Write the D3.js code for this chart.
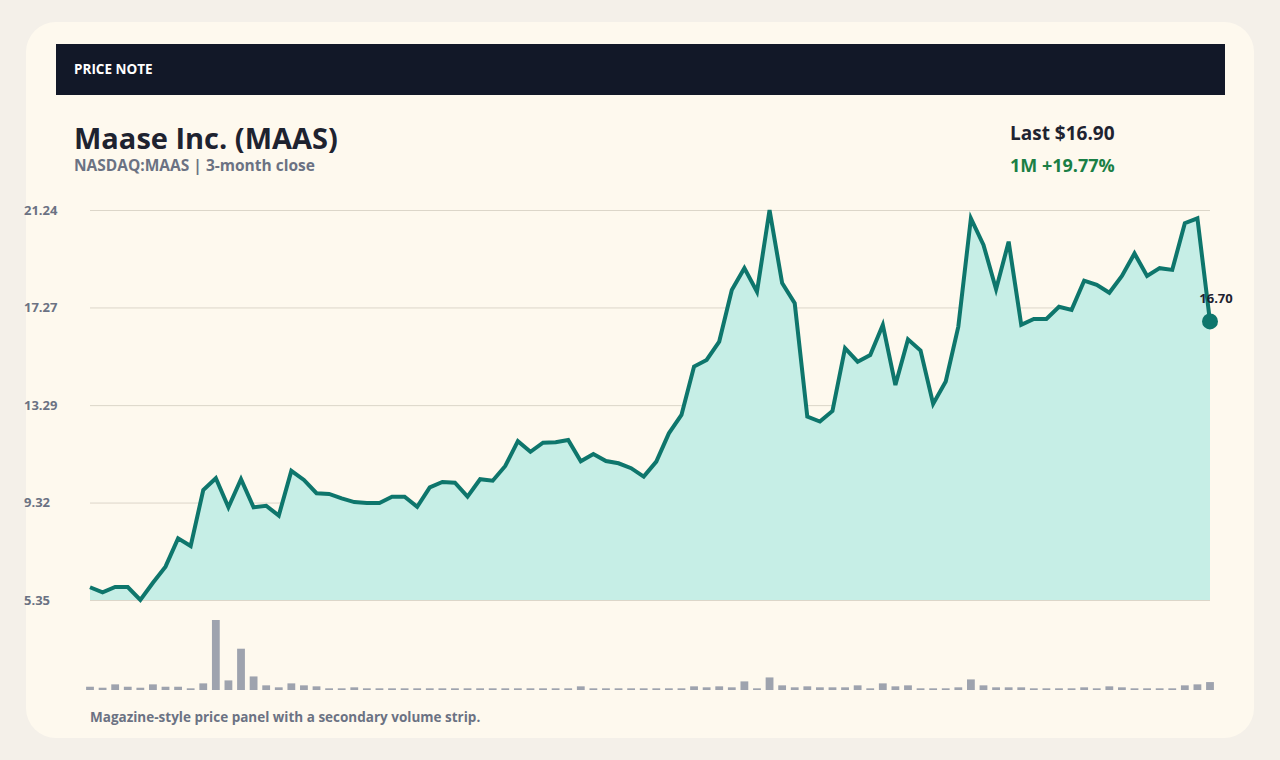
<!DOCTYPE html>
<html>
<head>
<meta charset="utf-8">
<script src="https://cdn.jsdelivr.net/npm/d3@7"></script>
<style>
  html, body { margin: 0; padding: 0; background: #f4f0e9; }
  svg { display: block; font-family: "Open Sans", sans-serif; }
</style>
</head>
<body>
<svg id="chart" width="1280" height="760"></svg>
<script>
// daily close, 3 months
const closes = [
  5.87, 5.66, 5.88, 5.88, 5.35, 6.05, 6.71, 7.86, 7.55, 9.83,
  10.31, 9.13, 10.27, 9.13, 9.19, 8.79, 10.61, 10.24, 9.70, 9.67,
  9.49, 9.34, 9.30, 9.30, 9.56, 9.56, 9.15, 9.94, 10.16, 10.13,
  9.56, 10.27, 10.21, 10.81, 11.82, 11.39, 11.76, 11.78, 11.87, 11.00,
  11.30, 11.01, 10.92, 10.72, 10.38, 10.99, 12.14, 12.89, 14.86, 15.13,
  15.88, 17.98, 18.87, 17.91, 21.24, 18.26, 17.44, 12.82, 12.62, 13.05,
  15.61, 15.06, 15.33, 16.56, 14.11, 15.97, 15.51, 13.34, 14.25, 16.49,
  20.90, 19.82, 18.01, 19.95, 16.56, 16.80, 16.80, 17.30, 17.17, 18.36,
  18.19, 17.87, 18.55, 19.47, 18.55, 18.87, 18.80, 20.70, 20.90, 16.70
];

// volume (millions)
const volumes = [
  0.33, 0.23, 0.57, 0.33, 0.23, 0.57, 0.33, 0.33, 0.17, 0.67,
  7.07, 0.97, 4.17, 1.37, 0.47, 0.27, 0.67, 0.47, 0.37, 0.17,
  0.17, 0.27, 0.17, 0.17, 0.17, 0.17, 0.17, 0.17, 0.17, 0.17,
  0.17, 0.17, 0.17, 0.17, 0.17, 0.17, 0.17, 0.17, 0.17, 0.37,
  0.17, 0.17, 0.17, 0.17, 0.17, 0.17, 0.17, 0.17, 0.37, 0.27,
  0.37, 0.27, 0.87, 0.17, 1.27, 0.47, 0.27, 0.37, 0.27, 0.27,
  0.27, 0.47, 0.17, 0.67, 0.37, 0.47, 0.17, 0.17, 0.17, 0.27,
  1.07, 0.47, 0.27, 0.27, 0.27, 0.17, 0.17, 0.17, 0.17, 0.27,
  0.17, 0.37, 0.27, 0.17, 0.17, 0.17, 0.17, 0.47, 0.57, 0.80
];

const yTicks = [5.35, 9.32, 13.29, 17.27, 21.24];

const bandLabel = "PRICE NOTE";
const title = "Maase Inc. (MAAS)";
const subtitle = "NASDAQ:MAAS | 3-month close";
const lastLabel = "Last $16.90";
const changeLabel = "1M +19.77%";
const footnote = "Magazine-style price panel with a secondary volume strip.";

const svg = d3.select("#chart");

// card
svg.append("rect")
  .attr("x", 26).attr("y", 22)
  .attr("width", 1228).attr("height", 716)
  .attr("rx", 30)
  .attr("fill", "#fef9ee");

// top band
svg.append("rect")
  .attr("x", 56).attr("y", 44)
  .attr("width", 1169).attr("height", 51)
  .attr("fill", "#121828");

svg.append("text")
  .attr("x", 74).attr("y", 74)
  .attr("fill", "#ffffff")
  .style("font-size", "13.5px")
  .style("font-weight", 700)
  .text(bandLabel);

// titles
svg.append("text")
  .attr("x", 74).attr("y", 149)
  .attr("fill", "#1e2330")
  .style("font-size", "29px")
  .style("font-weight", 700)
  .text(title);

svg.append("text")
  .attr("x", 74).attr("y", 171)
  .attr("fill", "#6b7283")
  .style("font-size", "15.5px")
  .style("font-weight", 700)
  .text(subtitle);

svg.append("text")
  .attr("x", 1010).attr("y", 140)
  .attr("fill", "#1e2330")
  .style("font-size", "19px")
  .style("font-weight", 700)
  .text(lastLabel);

svg.append("text")
  .attr("x", 1010).attr("y", 172)
  .attr("fill", "#1a7f45")
  .style("font-size", "18px")
  .style("font-weight", 700)
  .text(changeLabel);

// scales
const x = d3.scaleLinear()
  .domain([0, closes.length - 1])
  .range([90, 1210]);

const y = d3.scaleLinear()
  .domain([d3.min(closes), d3.max(closes)])
  .range([600, 210]);

const yVol = d3.scaleLinear()
  .domain([0, d3.max(volumes)])
  .range([690, 620]);

// grid + y labels
const yAxis = svg.append("g")
  .attr("transform", "translate(90,0)")
  .call(d3.axisLeft(y)
    .tickValues(yTicks)
    .tickSize(-1120)
    .tickFormat(d3.format(".2f")));

yAxis.select(".domain").remove();
yAxis.selectAll(".tick line")
  .attr("stroke", "#dcd6c9")
  .attr("stroke-width", 1);
yAxis.selectAll(".tick text")
  .attr("x", -66)
  .attr("text-anchor", "start")
  .attr("fill", "#6b7283")
  .style("font-family", "'Open Sans', sans-serif")
  .style("font-size", "13px")
  .style("font-weight", 700);

// area + line
const area = d3.area()
  .x((d, i) => x(i))
  .y0(y.range()[0])
  .y1(d => y(d));

const line = d3.line()
  .x((d, i) => x(i))
  .y(d => y(d));

svg.append("path")
  .datum(closes)
  .attr("d", area)
  .attr("fill", "#c6eee6");

svg.append("path")
  .datum(closes)
  .attr("d", line)
  .attr("fill", "none")
  .attr("stroke", "#0e766c")
  .attr("stroke-width", 4);

// last point marker
const lastI = closes.length - 1;
svg.append("circle")
  .attr("cx", x(lastI))
  .attr("cy", y(closes[lastI]))
  .attr("r", 8)
  .attr("fill", "#0e766c");

svg.append("text")
  .attr("x", x(lastI) + 6)
  .attr("y", y(closes[lastI]) - 18)
  .attr("text-anchor", "middle")
  .attr("fill", "#1e2330")
  .style("font-size", "13px")
  .style("font-weight", 700)
  .text(d3.format(".2f")(closes[lastI]));

// volume strip
const step = x(1) - x(0);
const bw = step * 0.62;

svg.append("g")
  .selectAll("rect")
  .data(volumes)
  .enter()
  .append("rect")
  .attr("x", (d, i) => x(i) - bw / 2)
  .attr("y", d => yVol(d))
  .attr("width", bw)
  .attr("height", d => yVol(0) - yVol(d))
  .attr("fill", "#9ea3ae");

// footnote
svg.append("text")
  .attr("x", 90).attr("y", 722)
  .attr("fill", "#6b7283")
  .style("font-size", "13.5px")
  .style("font-weight", 700)
  .text(footnote);
</script>
</body>
</html>
